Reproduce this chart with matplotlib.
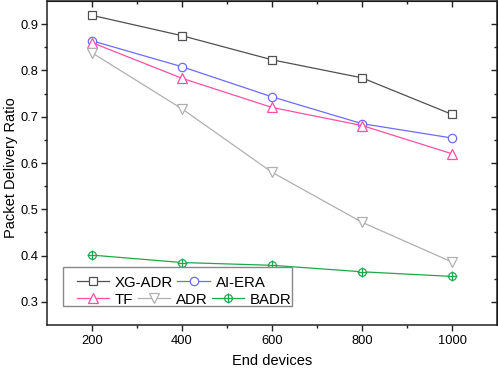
import matplotlib
matplotlib.use("Agg")
import matplotlib.pyplot as plt
from matplotlib.patches import Rectangle
from matplotlib.legend_handler import HandlerTuple

plt.rcParams['font.family'] = ['Liberation Sans', 'DejaVu Sans']

# data
devices = [200, 400, 600, 800, 1000]
xg_adr = [0.919, 0.875, 0.823, 0.784, 0.705]
ai_era = [0.864, 0.808, 0.743, 0.685, 0.654]
tf = [0.860, 0.783, 0.720, 0.681, 0.620]
adr = [0.838, 0.717, 0.580, 0.472, 0.386]
badr = [0.401, 0.385, 0.379, 0.365, 0.355]

x_ticks = [200, 400, 600, 800, 1000]
y_ticks = [0.3, 0.4, 0.5, 0.6, 0.7, 0.8, 0.9]
x_minor = [300, 500, 700, 900]
y_minor = [0.35, 0.45, 0.55, 0.65, 0.75, 0.85]

fig = plt.figure(figsize=(4.98, 3.68), dpi=100)
ax = fig.add_axes([0.0944, 0.1168, 0.9036, 0.8805])

lw = 0.9
mew = 0.9
h1, = ax.plot(devices, xg_adr, '-s', color='#505050', mfc='white', ms=5.5, lw=lw, mew=mew)
h2, = ax.plot(devices, ai_era, '-o', color='#6b6bff', mfc='white', ms=6, lw=lw, mew=mew)
h3, = ax.plot(devices, tf, '-^', color='#ff4fa7', mfc='white', ms=6.5, lw=lw, mew=mew)
h4, = ax.plot(devices, adr, '-v', color='#b0b0b0', mfc='white', ms=6.5, lw=lw, mew=mew)
h5, = ax.plot(devices, badr, '-o', color='#1fa84a', mfc='white', ms=5.5, lw=lw, mew=mew)
h5p, = ax.plot(devices, badr, '+', color='#1fa84a', ms=7, mew=mew)

ax.set_xlim(100, 1100)
ax.set_ylim(0.25, 0.95)
ax.set_xticks(x_ticks)
ax.set_yticks(y_ticks)
ax.set_xticks(x_minor, minor=True)
ax.set_yticks(y_minor, minor=True)
ax.set_yticklabels(['%.1f' % v for v in y_ticks])

for s in ax.spines.values():
    s.set_linewidth(1.1)
    s.set_color('#222222')

ax.tick_params(which='major', direction='out', length=4.5, width=1, labelsize=9.3, pad=1.5, color='#222222')
ax.tick_params(which='minor', direction='out', length=2.5, width=1, color='#222222')
ax.tick_params(axis='x', pad=3)

# mirrored ticks pointing inward on top and right
top = ax.secondary_xaxis('top')
top.set_xticks(x_ticks)
top.set_xticks(x_minor, minor=True)
top.tick_params(which='major', direction='in', length=4.5, width=1, labeltop=False, color='#222222')
top.tick_params(which='minor', direction='in', length=2.5, width=1, color='#222222')
right = ax.secondary_yaxis('right')
right.set_yticks(y_ticks)
right.set_yticks(y_minor, minor=True)
right.tick_params(which='major', direction='in', length=4.5, width=1, labelright=False, color='#222222')
right.tick_params(which='minor', direction='in', length=2.5, width=1, color='#222222')

ax.set_xlabel('End devices', fontsize=10.5, labelpad=4.5)
ax.set_ylabel('Packet Delivery Ratio', fontsize=10.5)
ax.yaxis.set_label_coords(-0.065, 0.485)

# legend: two rows laid out like the original, inside one frame
leg_kw = dict(frameon=False, fontsize=10.8, handlelength=2.15, handletextpad=0.4,
              columnspacing=0.28, borderpad=0, borderaxespad=0)
leg1 = ax.legend([h1, h2], ['XG-ADR', 'AI-ERA'], ncol=2, loc='center left',
                 bbox_to_anchor=(0.066, 0.131), **leg_kw)
ax.add_artist(leg1)
leg2 = ax.legend([h3, h4, (h5, h5p)], ['TF', 'ADR', 'BADR'], ncol=3, loc='center left',
                 bbox_to_anchor=(0.066, 0.078), handler_map={tuple: HandlerTuple(ndivide=1, pad=0)},
                 **leg_kw)
ax.add_patch(Rectangle((0.036, 0.059), 0.508, 0.12, transform=ax.transAxes,
                       facecolor='white', edgecolor='#888888', lw=1.0, zorder=4))
leg1.set_zorder(5)
leg2.set_zorder(5)

fig.savefig('out.png', dpi=100)
